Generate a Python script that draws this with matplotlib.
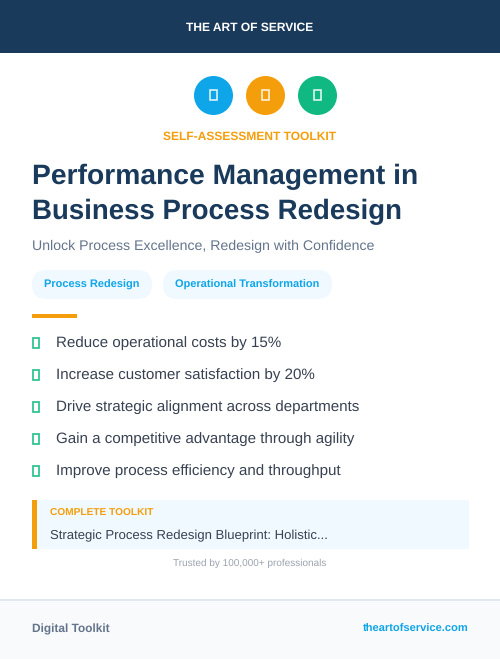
import matplotlib
matplotlib.use("Agg")
import matplotlib.pyplot as plt
from matplotlib.patches import Rectangle, Circle, FancyBboxPatch

plt.rcParams['font.family'] = ['Liberation Sans', 'DejaVu Sans']
plt.rcParams['text.hinting'] = 'no_hinting'
plt.rcParams['text.hinting_factor'] = 8

brand = "THE ART OF SERVICE"
eyebrow = "SELF-ASSESSMENT TOOLKIT"
title_lines = ["Performance Management in", "Business Process Redesign"]
subtitle = "Unlock Process Excellence, Redesign with Confidence"
tags = ["Process Redesign", "Operational Transformation"]
bullets = ["Reduce operational costs by 15%", "Increase customer satisfaction by 20%",
           "Drive strategic alignment across departments",
           "Gain a competitive advantage through agility",
           "Improve process efficiency and throughput"]
callout_head = "COMPLETE TOOLKIT"
callout_body = "Strategic Process Redesign Blueprint: Holistic..."
trust = "Trusted by 100,000+ professionals"
foot_left = "Digital Toolkit"
foot_right = "theartofservice.com"

NAVY, BLUE, ORANGE, GREEN = "#1a3a5c", "#0ea5e9", "#f59e0b", "#10b981"
SLATE, DARK, PALE = "#64748b", "#374151", "#f0f9ff"
icon_colors = [BLUE, ORANGE, GREEN]
icon_x = [213.5, 265.5, 317.5]
tag_boxes = [(32, 120), (163, 169)]
bullet_y = [342, 374, 406, 438, 470]

fig = plt.figure(figsize=(5, 6.59), dpi=100, facecolor="white")
ax = fig.add_axes([0, 0, 1, 1])
ax.set_xlim(0, 500); ax.set_ylim(659, 0); ax.axis("off")

def rect(x, y, w, h, c, **k):
    ax.add_patch(Rectangle((x, y), w, h, facecolor=c, edgecolor="none", **k))

def txt(x, y, s, size, c, weight="normal", ha="left"):
    return ax.text(x, y, s, fontsize=size, color=c, fontweight=weight, ha=ha, va="center_baseline")

rect(0, 0, 500, 53, NAVY)
txt(250, 26.5, brand, 8.65, "white", "bold", "center")

for x, c in zip(icon_x, icon_colors):
    ax.add_patch(Circle((x, 95.5), 19.5, facecolor=c, edgecolor="none"))
    ax.add_patch(Rectangle((x - 4, 90.2), 7, 10, facecolor="none", edgecolor="white", linewidth=1.2, alpha=.85))

txt(249.5, 135.5, eyebrow, 8.65, ORANGE, "bold", "center")
txt(32, 174, title_lines[0], 20.38, NAVY, "bold")
txt(32, 209, title_lines[1], 19.9, NAVY, "bold")
txt(32, 245, subtitle, 10.14, SLATE)

for (x, w), t in zip(tag_boxes, tags):
    ax.add_patch(FancyBboxPatch((x + 14.5, 270 + 14.5), w - 29, 0.01,
                                boxstyle="round,pad=14.5,rounding_size=14.5", facecolor=PALE, edgecolor="none"))
    txt(x + 12, 283.5, t, 7.9, BLUE, "bold")

rect(32, 314, 45, 4, ORANGE)

for y, t in zip(bullet_y, bullets):
    ax.add_patch(Rectangle((32.7, y - 4.5), 6.6, 10, facecolor="none", edgecolor=GREEN, linewidth=1.3, alpha=.85))
    txt(56, y - 0.8, t, 10.9, DARK)

rect(32, 500, 437, 49, PALE)
rect(32, 500, 5, 49, ORANGE)
txt(50, 512.5, callout_head, 7.25, ORANGE, "bold")
txt(50, 534.5, callout_body, 9.45, DARK)
txt(250, 562.5, trust, 7.2, "#9ca3af", "normal", "center")

rect(0, 600, 500, 59, "#f8fafc")
rect(0, 599, 500, 2, "#e2e8f0")
txt(32, 628.5, foot_left, 8.55, SLATE, "bold")
txt(468.5, 628, foot_right, 8.0, BLUE, "bold", "right")

fig.savefig("out.png", dpi=100, facecolor="white")
